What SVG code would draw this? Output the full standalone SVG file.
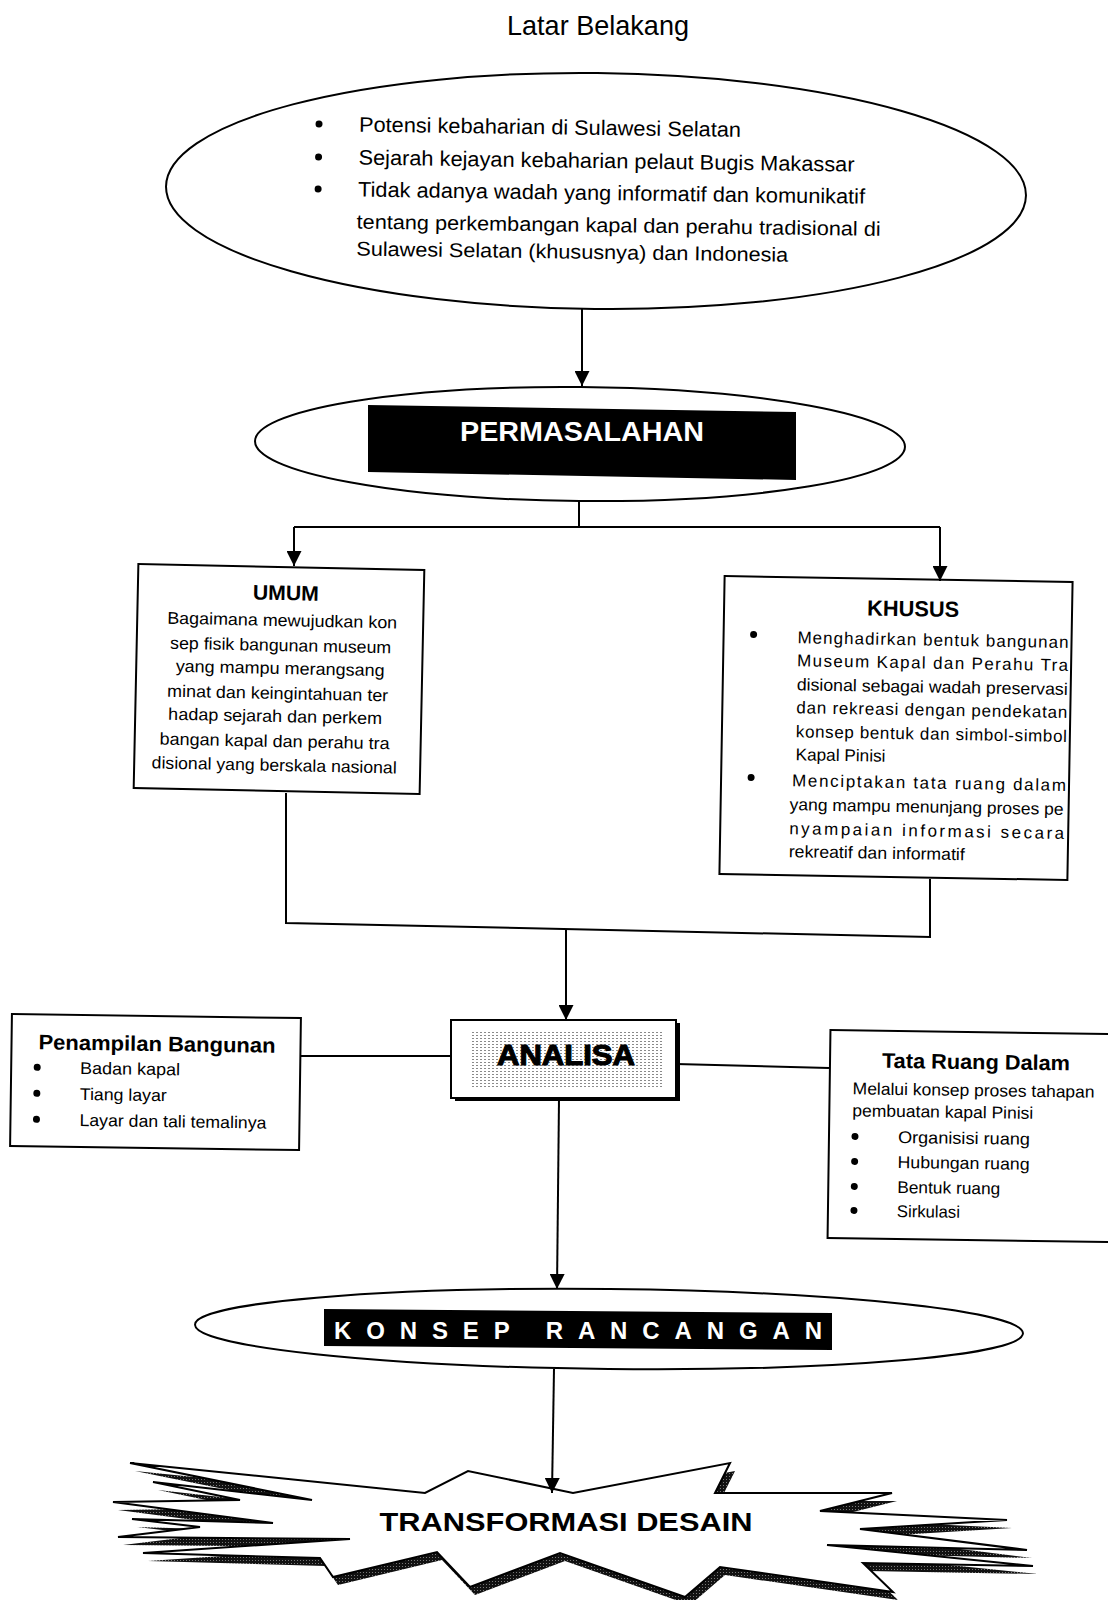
<svg xmlns="http://www.w3.org/2000/svg" width="1108" height="1600" viewBox="0 0 1108 1600">
<style>
  .t { font-family: "Liberation Sans", Arial, sans-serif; fill: #000; }
  .b { font-weight: bold; }
  .w { fill: #fff; }
  .body { font-size: 21px; }
  .sm { font-size: 17px; }
  .box { fill: #fff; stroke: #000; stroke-width: 2; }
  .ln { fill: none; stroke: #000; stroke-width: 2; }
  .arw { fill: none; stroke: #000; stroke-width: 2; marker-end: url(#arr); }
</style>
<defs>
  <marker id="arr" viewBox="0 0 10 10" refX="10" refY="5" markerWidth="18" markerHeight="15" orient="auto" markerUnits="userSpaceOnUse">
    <path d="M0,0 L10,5 L0,10 z" fill="#000"/>
  </marker>
  <pattern id="ht" width="4" height="3" patternUnits="userSpaceOnUse">
    <rect width="2" height="1" fill="#8a8a8a"/>
  </pattern>
  <pattern id="sh" width="3" height="3" patternUnits="userSpaceOnUse">
    <rect width="3" height="3" fill="#111"/>
    <rect x="1" y="1" width="1" height="1" fill="#777"/>
  </pattern>
</defs>
<rect width="1108" height="1600" fill="#fff"/>

<g id="title">
  <text class="t" x="598" y="35" font-size="28" text-anchor="middle" textLength="182" lengthAdjust="spacingAndGlyphs">Latar Belakang</text>
</g>

<g id="latar-belakang">
  <ellipse class="box" cx="596" cy="191" rx="430" ry="118" transform="rotate(0.6 596 191)"/>
  <g transform="rotate(0.8 600 200)">
    <circle cx="318" cy="128" r="3.5"/>
    <circle cx="318" cy="161" r="3.5"/>
    <circle cx="318" cy="193" r="3.5"/>
    <text class="t body" x="358" y="135" textLength="382" lengthAdjust="spacingAndGlyphs">Potensi kebaharian di Sulawesi Selatan</text>
    <text class="t body" x="358" y="168" textLength="496" lengthAdjust="spacingAndGlyphs">Sejarah kejayan kebaharian pelaut Bugis Makassar</text>
    <text class="t body" x="358" y="200" textLength="507" lengthAdjust="spacingAndGlyphs">Tidak adanya wadah yang informatif dan komunikatif</text>
    <text class="t" font-size="20" x="357" y="232" textLength="524" lengthAdjust="spacingAndGlyphs">tentang perkembangan kapal dan perahu tradisional di</text>
    <text class="t" font-size="20" x="357" y="259" textLength="432" lengthAdjust="spacingAndGlyphs">Sulawesi Selatan (khususnya) dan Indonesia</text>
  </g>
</g>

<g id="permasalahan">
  <ellipse class="box" cx="580" cy="444" rx="325" ry="57" transform="rotate(0.5 580 444)"/>
  <polygon points="368,405 796,412 796,480 368,472" fill="#000"/>
  <text class="t b w" x="582" y="441" font-size="27" text-anchor="middle" textLength="244" lengthAdjust="spacingAndGlyphs">PERMASALAHAN</text>
</g>

<g id="umum" transform="rotate(1.2 279 679)">
  <rect class="box" x="136" y="567" width="286" height="224"/>
  <text class="t b" x="284" y="600" font-size="21" text-anchor="middle" textLength="66" lengthAdjust="spacingAndGlyphs">UMUM</text>
  <g class="t sm" text-anchor="middle">
    <text x="281" y="626" textLength="230" lengthAdjust="spacingAndGlyphs">Bagaimana mewujudkan kon</text>
    <text x="280" y="651" textLength="221" lengthAdjust="spacingAndGlyphs">sep fisik bangunan museum</text>
    <text x="280" y="674" textLength="209" lengthAdjust="spacingAndGlyphs">yang mampu merangsang</text>
    <text x="278" y="699" textLength="221" lengthAdjust="spacingAndGlyphs">minat dan keingintahuan ter</text>
    <text x="276" y="722" textLength="214" lengthAdjust="spacingAndGlyphs">hadap sejarah dan perkem</text>
    <text x="276" y="747" textLength="230" lengthAdjust="spacingAndGlyphs">bangan kapal dan perahu tra</text>
    <text x="276" y="771" textLength="245" lengthAdjust="spacingAndGlyphs">disional yang berskala nasional</text>
  </g>
</g>

<g id="khusus" transform="rotate(1 896 728)">
  <rect class="box" x="722" y="579" width="348" height="298"/>
  <text class="t b" x="911" y="616" font-size="22" text-anchor="middle" textLength="92" lengthAdjust="spacingAndGlyphs">KHUSUS</text>
  <circle cx="752" cy="637" r="3.5"/>
  <circle cx="752" cy="780" r="3.5"/>
  <g class="t sm">
    <text x="796" y="645" textLength="271" lengthAdjust="spacing">Menghadirkan  bentuk  bangunan</text>
    <text x="796" y="668" textLength="271" lengthAdjust="spacing">Museum  Kapal  dan  Perahu  Tra</text>
    <text x="796" y="692" textLength="271" lengthAdjust="spacingAndGlyphs">disional sebagai wadah preservasi</text>
    <text x="796" y="715" textLength="271" lengthAdjust="spacing">dan  rekreasi  dengan  pendekatan</text>
    <text x="796" y="739" textLength="271" lengthAdjust="spacing">konsep  bentuk  dan  simbol-simbol</text>
    <text x="796" y="762" textLength="90" lengthAdjust="spacingAndGlyphs">Kapal Pinisi</text>
    <text x="793" y="788" textLength="274" lengthAdjust="spacing">Menciptakan   tata   ruang   dalam</text>
    <text x="791" y="812" textLength="274" lengthAdjust="spacingAndGlyphs">yang mampu menunjang proses pe</text>
    <text x="791" y="836" textLength="275" lengthAdjust="spacing">nyampaian       informasi       secara</text>
    <text x="791" y="859" textLength="176" lengthAdjust="spacingAndGlyphs">rekreatif dan informatif</text>
  </g>
</g>

<g id="analisa">
  <rect x="455" y="1023" width="225" height="78" fill="#000"/>
  <rect class="box" x="451" y="1020" width="225" height="78"/>
  <rect x="472" y="1032" width="190" height="55" fill="url(#ht)"/>
  <text class="t b" x="566" y="1065" font-size="30" text-anchor="middle" textLength="138" lengthAdjust="spacingAndGlyphs" stroke="#000" stroke-width="1.2">ANALISA</text>
</g>

<g id="penampilan-bangunan" transform="rotate(0.8 155 1082)">
  <rect class="box" x="11" y="1016" width="289" height="132"/>
  <text class="t b" x="38" y="1051" font-size="21" textLength="237" lengthAdjust="spacingAndGlyphs">Penampilan Bangunan</text>
  <circle cx="37" cy="1069" r="3.5"/>
  <circle cx="37" cy="1095" r="3.5"/>
  <circle cx="37" cy="1121" r="3.5"/>
  <g class="t sm">
    <text x="80" y="1075" textLength="100" lengthAdjust="spacingAndGlyphs">Badan kapal</text>
    <text x="80" y="1101" textLength="87" lengthAdjust="spacingAndGlyphs">Tiang layar</text>
    <text x="80" y="1127" textLength="187" lengthAdjust="spacingAndGlyphs">Layar dan tali temalinya</text>
  </g>
</g>

<g id="tata-ruang-dalam" transform="rotate(0.8 970 1136)">
  <rect class="box" x="829" y="1032" width="290" height="208"/>
  <text class="t b" x="975" y="1069" font-size="21" text-anchor="middle" textLength="188" lengthAdjust="spacingAndGlyphs">Tata Ruang Dalam</text>
  <g class="t sm">
    <text x="852" y="1096" textLength="242" lengthAdjust="spacingAndGlyphs">Melalui konsep proses tahapan</text>
    <text x="852" y="1118" textLength="181" lengthAdjust="spacingAndGlyphs">pembuatan kapal Pinisi</text>
    <text x="898" y="1144" textLength="132" lengthAdjust="spacingAndGlyphs">Organisisi  ruang</text>
    <text x="898" y="1169" textLength="132" lengthAdjust="spacingAndGlyphs">Hubungan ruang</text>
    <text x="898" y="1194" textLength="103" lengthAdjust="spacingAndGlyphs">Bentuk ruang</text>
    <text x="898" y="1218" textLength="63" lengthAdjust="spacingAndGlyphs">Sirkulasi</text>
  </g>
  <circle cx="855" cy="1138" r="3.5"/>
  <circle cx="855" cy="1163" r="3.5"/>
  <circle cx="855" cy="1188" r="3.5"/>
  <circle cx="855" cy="1212" r="3.5"/>
</g>

<g id="konsep-rancangan">
  <ellipse class="box" cx="609" cy="1329" rx="414" ry="40" transform="rotate(0.6 609 1329)"/>
  <polygon points="324,1309 832,1313 832,1350 324,1346" fill="#000"/>
  <text class="t b w" x="334" y="1339" font-size="24" textLength="488" lengthAdjust="spacing">KONSEP RANCANGAN</text>
</g>

<g id="transformasi-desain">
  <polygon transform="translate(5,8)" fill="url(#sh)" points="130,1463 425,1493 468,1471 573,1493 730,1463 715,1493 892,1493 820,1511 1007,1520 860,1529 1027,1550 827,1545 1033,1566 863,1563 893,1592 720,1567 685,1597 560,1553 470,1587 437,1552 333,1577 320,1558 143,1553 350,1539 118,1537 200,1527 132,1519 273,1523 113,1502 240,1500 153,1482 312,1500"/>
  <polygon fill="#fff" stroke="#000" stroke-width="2" stroke-linejoin="miter" points="130,1463 425,1493 468,1471 573,1493 730,1463 715,1493 892,1493 820,1511 1007,1520 860,1529 1027,1550 827,1545 1033,1566 863,1563 893,1592 720,1567 685,1597 560,1553 470,1587 437,1552 333,1577 320,1558 143,1553 350,1539 118,1537 200,1527 132,1519 273,1523 113,1502 240,1500 153,1482 312,1500"/>
  <text class="t b" x="566" y="1531" font-size="25" text-anchor="middle" textLength="373" lengthAdjust="spacingAndGlyphs">TRANSFORMASI DESAIN</text>
</g>

<g id="connectors">
  <path class="arw" d="M582,309 L582,386"/>
  <path class="ln" d="M579,501 L579,527 M294,527 L940,527"/>
  <path class="arw" d="M294,527 L294,566"/>
  <path class="arw" d="M940,527 L940,581"/>
  <path class="ln" d="M286,793 L286,923 L930,937 L930,879"/>
  <path class="arw" d="M566,930 L566,1020"/>
  <path class="ln" d="M300,1056 L451,1056"/>
  <path class="ln" d="M676,1064 L829,1068"/>
  <path class="arw" d="M559,1099 L557,1289"/>
  <path class="arw" d="M554,1369 L552,1493"/>
</g>
</svg>
